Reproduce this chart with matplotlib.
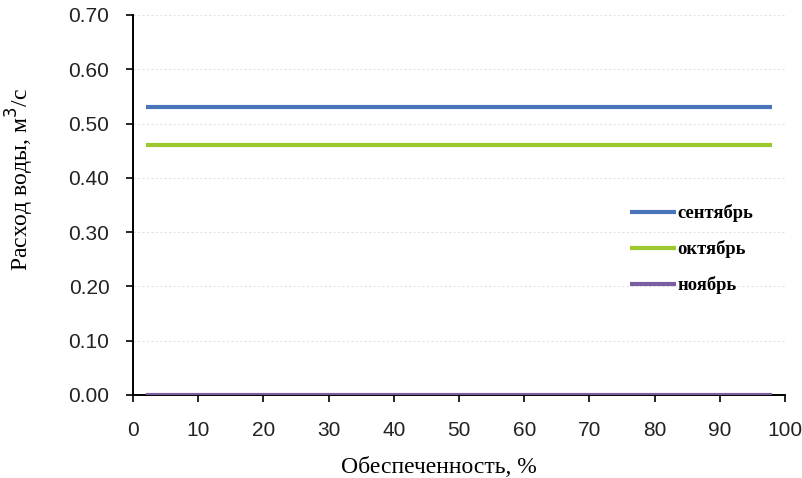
import matplotlib
matplotlib.use("Agg")
import matplotlib.pyplot as plt
import numpy as np

# Data
prob = [2, 98]
series_names = ["сентябрь", "октябрь", "ноябрь"]
sep = [0.53, 0.53]
octo = [0.46, 0.46]
nov = [0.0, 0.0]
colors = ["#4A74B8", "#9BC82C", "#7B5EA0"]
xticks = [0, 10, 20, 30, 40, 50, 60, 70, 80, 90, 100]
yticks = [0.0, 0.1, 0.2, 0.3, 0.4, 0.5, 0.6, 0.7]

fig = plt.figure(figsize=(8.03, 4.78), dpi=100)
ax = fig.add_axes([133/803, 1-395/478, (785-133)/803, (395-15)/478])

for vals, name, c in zip([sep, octo, nov], series_names, colors):
    ax.plot(prob, vals, color=c, lw=3, label=name, solid_capstyle="butt")

ax.set_xlim(0, 100)
ax.set_ylim(0, 0.7)
ax.set_xticks(xticks)
ax.set_yticks(yticks)
ax.set_yticklabels([f"{v:.2f}" for v in yticks])
for lab in ax.get_xticklabels() + ax.get_yticklabels():
    lab.set_fontfamily("Liberation Sans")
    lab.set_fontsize(15)
    lab.set_color("#222222")
ax.tick_params(direction="out", length=5, width=1.2, color="black")
ax.tick_params(axis="x", pad=14)
ax.tick_params(axis="y", pad=12)
ax.grid(axis="y", color="#dde3ee", lw=0.8, ls=(0, (2, 2)))
ax.set_axisbelow(True)
for s in ["top", "right"]:
    ax.spines[s].set_visible(False)
for s in ["left", "bottom"]:
    ax.spines[s].set_linewidth(1.4)
    ax.spines[s].set_color("black")
ax.spines["bottom"].set_zorder(1)

ax.set_xlabel("Обеспеченность, %", family="Liberation Serif", fontsize=17)
ax.set_ylabel("Расход воды, м$^3$/с", family="Liberation Serif", fontsize=17)
ax.xaxis.set_label_coords(0.469, -0.163)
ax.yaxis.set_label_coords(-0.149, 0.566)

leg = ax.legend(loc="upper left", bbox_to_anchor=(630/803, 1-204/478),
                bbox_transform=fig.transFigure, frameon=False,
                prop={"family": "Liberation Serif", "weight": "bold", "size": 13.3},
                handlelength=2.5, handletextpad=0.08, labelspacing=0.98,
                borderpad=0, borderaxespad=0)

fig.savefig("out.png", dpi=100)
